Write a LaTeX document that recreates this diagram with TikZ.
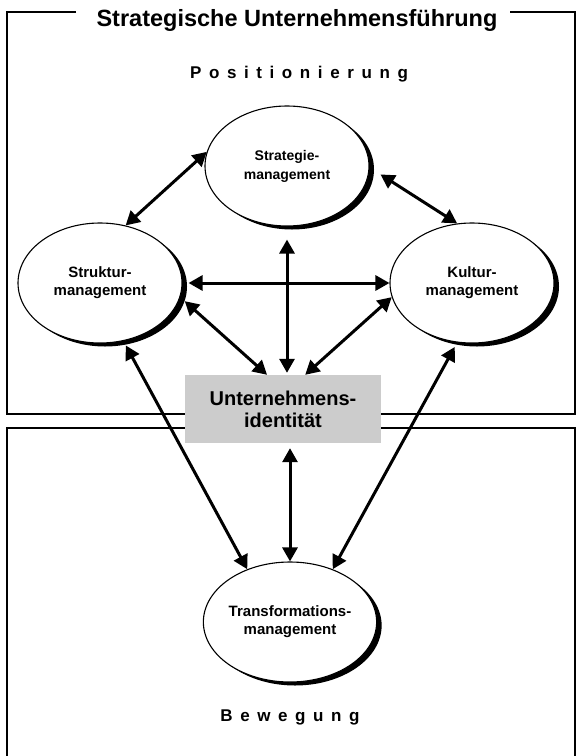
\documentclass[tikz,border=0pt]{standalone}
\usepackage{fontspec}
\setmainfont{Liberation Sans}
\usetikzlibrary{arrows.meta,shadows,shapes.geometric}
\newcommand\mygap{\hspace{7.6pt}}
\begin{document}
\begin{tikzpicture}[x=1pt,y=-1pt,
  mgmt/.style={ellipse, draw=black, line width=1.1pt, fill=white,
    minimum width=164pt, minimum height=120pt, inner sep=0pt, align=center,
    font=\bfseries\fontsize{15}{18}\selectfont,
    drop shadow={shadow xshift=5pt, shadow yshift=-3.5pt, fill=black, opacity=1}},
  identbox/.style={rectangle, fill=black!20, minimum width=196pt, minimum height=68pt,
    inner sep=0pt, align=center, font=\bfseries\fontsize{20}{22}\selectfont},
  arr/.style={{Triangle[length=14pt,width=15pt]}-{Triangle[length=14pt,width=15pt]}, line width=3pt},
  frameline/.style={line width=1.4pt},
  heading/.style={font=\bfseries\fontsize{17}{20}\selectfont}]
\useasboundingbox (0,0) rectangle (576,756);
% frames
\draw[frameline] (76,12) -- (7,12) -- (7,414) -- (575,414) -- (575,12) -- (510,12);
\draw[frameline] (575,756) -- (575,428) -- (7,428) -- (7,756);
% texts
\node[font=\bfseries\fontsize{23.5}{27}\selectfont] (title) at (297,20) {Strategische Unternehmensführung};
\node[heading] (pos) at (299,74) {P\mygap o\mygap s\mygap i\mygap t\mygap i\mygap o\mygap n\mygap i\mygap e\mygap r\mygap u\mygap n\mygap g};
\node[heading] (bew) at (290,717) {B\mygap e\mygap w\mygap e\mygap g\mygap u\mygap n\mygap g};
% nodes
\node[mgmt, font=\bfseries\fontsize{14}{19}\selectfont] (strat) at (287,166) {Strategie-\\management};
\node[mgmt] (struk) at (100,283) {Struktur-\\management};
\node[mgmt] (kult) at (472,283) {Kultur-\\management};
\node[mgmt] (trans) at (290,622) {Transformations-\\management};
\node[identbox] (ident) at (283,409) {Unternehmens-\\identität};
% connectors
\draw[arr] (struk.66) -- (strat.170);
\draw[arr, shorten <=13pt] (strat.-1) -- (kult.104);
\draw[arr, shorten <=6pt] (struk.east) -- (kult.west);
\draw[arr, shorten <=13pt, shorten >=2pt] (strat.south) -- (strat.south |- ident.north);
\draw[arr, shorten <=6pt] (struk.-10) -- (ident.115);
\draw[arr] (kult.190) -- (ident.57);
\draw[arr, shorten <=5pt] (struk.-68) -- (trans.129);
\draw[arr, shorten <=5pt] (kult.-104) -- (trans.51);
\draw[arr, shorten <=5pt] (trans.north |- ident.south) -- (trans.north);
\end{tikzpicture}
\end{document}
